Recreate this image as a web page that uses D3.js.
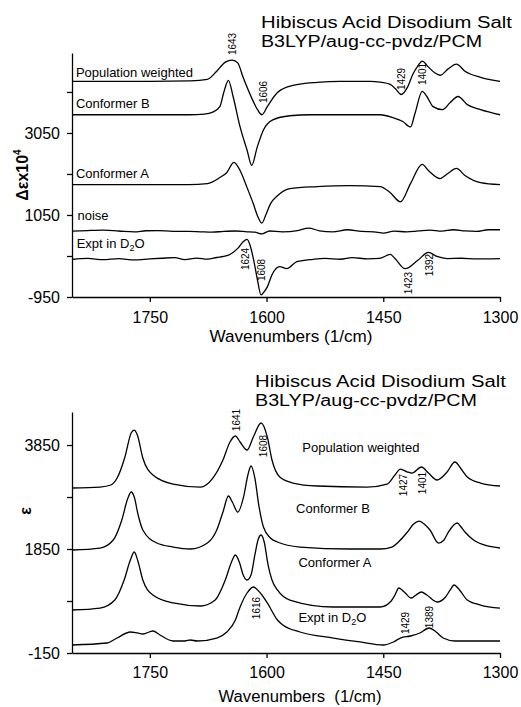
<!DOCTYPE html>
<html>
<head>
<meta charset="utf-8">
<script src="https://cdn.jsdelivr.net/npm/d3@7"></script>
<style>
  html, body { margin: 0; padding: 0; background: #fff; }
  svg { display: block; }
  text { font-family: "Liberation Sans", Arial, sans-serif; fill: #000; }
</style>
</head>
<body>
<svg id="chart" width="521" height="707"></svg>
<script>
// ---------------- DATA ----------------
const wavenumberTicks = [1750, 1600, 1450, 1300];
const topYTicks = [3050, 1050, -950];
const topYMinor = [4050, 2050, 50];
const botYTicks = [3850, 1850, -150];
const botYMinor = [2850, 850];

const titleLines = ["Hibiscus Acid Disodium Salt", "B3LYP/aug-cc-pvdz/PCM"];

// VCD (top panel): [wavenumber, Δε×10^4 incl. offset]
const vcdPopulation = [[1850,4309],[1750,4309],[1698,4320],[1676,4359],[1664,4556],[1653,4778],[1644,4828],[1637,4760],[1630,4400],[1619,3900],[1611,3600],[1606,3494],[1599,3692],[1586,4037],[1566,4210],[1535,4284],[1505,4309],[1467,4309],[1454,4290],[1441,4235],[1434,4120],[1427,3988],[1419,4161],[1412,4482],[1405,4700],[1400,4803],[1392,4655],[1384,4520],[1377,4457],[1367,4606],[1356,4729],[1345,4556],[1325,4408],[1313,4350],[1300,4309]];
const vcdConfB = [[1850,3494],[1700,3494],[1680,3510],[1669,3560],[1660,3692],[1655,4037],[1649,4334],[1643,3939],[1634,3198],[1625,2630],[1619,2260],[1612,2704],[1604,3124],[1592,3371],[1570,3470],[1544,3494],[1454,3494],[1437,3420],[1425,3330],[1415,3198],[1409,3544],[1400,4062],[1394,3939],[1386,3692],[1374,3618],[1364,3791],[1354,3939],[1342,3741],[1325,3618],[1300,3494]];
const vcdConfA = [[1850,1791],[1700,1791],[1676,1815],[1660,1963],[1651,2087],[1642,2334],[1634,2136],[1625,1717],[1617,1322],[1611,1001],[1606,852],[1601,1050],[1595,1322],[1586,1519],[1570,1692],[1535,1741],[1493,1766],[1454,1741],[1441,1593],[1428,1371],[1415,1815],[1400,2285],[1392,2136],[1377,1939],[1367,2062],[1356,2186],[1345,2013],[1325,1840],[1300,1791]];
const vcdNoise = [[1850,655],[1830,670],[1810,680],[1790,660],[1770,640],[1755,665],[1740,670],[1720,650],[1700,650],[1685,640],[1670,630],[1655,650],[1640,660],[1625,640],[1615,630],[1606,590],[1596,660],[1580,640],[1560,670],[1546,730],[1532,665],[1515,640],[1496,690],[1478,650],[1462,640],[1450,610],[1436,655],[1420,640],[1405,660],[1390,680],[1375,655],[1360,690],[1345,660],[1330,650],[1315,690],[1300,690]];
const vcdExpt = [[1850,-36],[1830,-10],[1810,-40],[1790,-15],[1770,-45],[1750,-20],[1735,-5],[1718,10],[1705,-40],[1690,0],[1676,-25],[1664,13],[1655,40],[1647,87],[1637,235],[1630,400],[1625,457],[1621,300],[1616,-100],[1612,-500],[1607,-900],[1603,-820],[1599,-703],[1593,-407],[1583,-209],[1574,-259],[1561,-86],[1540,-30],[1525,-10],[1505,-30],[1490,10],[1470,-20],[1455,-10],[1441,87],[1435,-12],[1422,-259],[1406,-61],[1392,136],[1381,38],[1368,-12],[1350,-5],[1330,-20],[1300,-12]];

// IR (bottom panel): [wavenumber, ε incl. offset]
const irPopulation = [[1850,3023],[1814,3042],[1800,3081],[1792,3215],[1782,3619],[1774,4081],[1770,4138],[1766,4042],[1759,3600],[1746,3273],[1720,3100],[1685,3042],[1669,3215],[1656,3562],[1647,3908],[1640,4023],[1634,3908],[1625,3754],[1617,4004],[1607,4273],[1599,4004],[1593,3562],[1583,3235],[1566,3119],[1535,3062],[1471,3042],[1445,3100],[1435,3273],[1428,3388],[1419,3331],[1413,3311],[1401,3427],[1392,3311],[1381,3177],[1368,3331],[1358,3523],[1349,3369],[1342,3235],[1325,3119],[1300,3062]];
const irConfB = [[1850,1831],[1814,1869],[1797,2023],[1786,2408],[1779,2792],[1774,2946],[1770,2850],[1765,2504],[1759,2215],[1741,1965],[1720,1888],[1698,1850],[1676,1965],[1664,2215],[1656,2561],[1649,2869],[1644,2754],[1637,2561],[1629,2888],[1624,3273],[1620,3446],[1615,3215],[1610,2696],[1604,2273],[1595,2062],[1586,1985],[1557,1888],[1493,1850],[1454,1850],[1439,1888],[1428,2023],[1419,2177],[1411,2331],[1404,2388],[1396,2311],[1390,2215],[1379,1965],[1372,2023],[1367,2158],[1355,2350],[1350,2273],[1345,2177],[1334,2023],[1316,1908],[1300,1869]];
const irConfA = [[1850,677],[1814,715],[1795,869],[1783,1254],[1775,1638],[1770,1792],[1765,1600],[1759,1254],[1746,965],[1720,812],[1685,754],[1666,869],[1653,1254],[1645,1600],[1640,1735],[1635,1600],[1630,1350],[1625,1254],[1620,1350],[1615,1735],[1611,2023],[1607,2119],[1603,1985],[1598,1542],[1593,1254],[1586,1062],[1570,869],[1514,735],[1454,735],[1441,831],[1435,965],[1430,1100],[1423,1023],[1414,908],[1408,965],[1401,1023],[1394,965],[1381,831],[1370,927],[1364,1062],[1359,1158],[1352,1062],[1342,869],[1325,773],[1300,715]];
const irExpt = [[1850,4],[1805,42],[1792,138],[1775,254],[1766,235],[1759,215],[1746,273],[1737,196],[1720,81],[1705,81],[1698,100],[1689,81],[1664,138],[1651,254],[1640,485],[1634,735],[1625,1004],[1617,1119],[1608,1004],[1599,812],[1586,485],[1579,388],[1557,254],[1514,138],[1480,62],[1450,4],[1437,62],[1428,138],[1415,177],[1403,235],[1391,331],[1382,254],[1373,138],[1358,81],[1300,81]];

// annotations: [text, wavenumber, value]
const topPeakLabels = [["1643",1644,5221],["1606",1604,4050],["1429",1427,4367],["1401",1399,4489],["1624",1627,-23],["1608",1606,-291],["1423",1418,-609],["1392",1391,-170]];
const botPeakLabels = [["1641",1639,4331],["1608",1604,3831],["1427",1424,3081],["1401",1400,3119],["1616",1613,715],["1429",1421,427],["1389",1390,542]];
// series labels: [text, wavenumber, value]
const topSeriesLabels = [["Population weighted",1845,4416],["Conformer B",1845,3660],["Conformer A",1845,1952],["noise",1843,928],["Expt in D|2|O",1844,245]];
const botSeriesLabels = [["Population weighted",1554,3715],["Conformer B",1562,2542],["Conformer A",1559,1504],["Expt in D|2|O",1559,446]];

// ---------------- DRAW ----------------
const svg = d3.select("#chart");
svg.append("rect").attr("width",521).attr("height",707).attr("fill","#fff");

const x = d3.scaleLinear().domain([1850, 1300]).range([72, 500]);

function panel(opts) {
  const y = d3.scaleLinear().domain(opts.yDomain).range(opts.yRange);
  const g = svg.append("g");
  const line = d3.line().x(d => x(d[0])).y(d => y(d[1])).curve(d3.curveMonotoneX);

  opts.series.forEach(s => {
    g.append("path").attr("d", line(s)).attr("fill","none")
      .attr("stroke","#000").attr("stroke-width",1.3).attr("stroke-linejoin","round");
  });

  const xa = g.append("g").attr("transform",`translate(0,${opts.yRange[0]})`)
    .call(d3.axisBottom(x).tickValues(wavenumberTicks).tickSize(5).tickSizeOuter(0).tickPadding(opts.xPad).tickFormat(d => String(d)));
  const ya = g.append("g").attr("transform",`translate(72,0)`)
    .call(d3.axisLeft(y).tickValues(opts.yTicks.concat(opts.yMinor)).tickSize(5).tickSizeOuter(0).tickPadding(7)
      .tickFormat(d => opts.yTicks.includes(d) ? String(d) : ""));
  [xa, ya].forEach(a => {
    a.select(".domain").attr("stroke","#000").attr("stroke-width",1.3);
    a.selectAll(".tick line").attr("stroke","#000").attr("stroke-width",1.3);
    a.selectAll(".tick text").attr("font-size",16).attr("font-family","Liberation Sans, Arial, sans-serif").attr("fill","#000");
  });

  svg.append("text").attr("x", opts.xTitleX).attr("y", opts.xTitleY)
    .attr("text-anchor","middle").attr("font-size",16)
    .attr("textLength",163).attr("lengthAdjust","spacingAndGlyphs")
    .style("white-space","pre").text(opts.xTitle);

  const yt = svg.append("text").attr("transform",`translate(${opts.yTitlePos[0]},${opts.yTitlePos[1]}) rotate(-90)`)
    .attr("text-anchor","middle").attr("font-size",16).attr("font-weight","bold");
  opts.yTitle(yt);

  titleLines.forEach((t,i) => {
    svg.append("text").attr("x", opts.titleX).attr("y", opts.titleY[i])
      .attr("font-size",16).attr("textLength", opts.titleLen[i]).attr("lengthAdjust","spacingAndGlyphs").text(t);
  });

  opts.peaks.forEach(([t,w,v]) => {
    svg.append("text").attr("transform",`translate(${x(w)},${y(v)}) rotate(-90)`)
      .attr("text-anchor","middle").attr("dominant-baseline","central")
      .attr("font-size",10).text(t);
  });

  opts.labels.forEach(([t,w,v]) => {
    const tx = svg.append("text").attr("x", x(w)).attr("y", y(v)).attr("font-size",13);
    const parts = t.split("|");
    if (parts.length === 1) { tx.text(t); }
    else {
      tx.append("tspan").text(parts[0]);
      tx.append("tspan").attr("font-size",9).attr("dy",3).text(parts[1]);
      tx.append("tspan").attr("dy",-3).text(parts[2]);
    }
  });
}

panel({
  yDomain:[-950, 5000], yRange:[297, 53],
  yTicks: topYTicks, yMinor: topYMinor, xPad: 10,
  series:[vcdPopulation, vcdConfB, vcdConfA, vcdNoise, vcdExpt],
  xTitle:"Wavenumbers (1/cm)", xTitleX:291, xTitleY:342,
  yTitlePos:[28,175],
  yTitle: t => { t.append("tspan").text("Δεx10"); t.append("tspan").attr("font-size",10).attr("dy",-7).text("4"); },
  titleX:261, titleY:[27.5,46.5], titleLen:[251,221],
  peaks: topPeakLabels, labels: topSeriesLabels
});

panel({
  yDomain:[-150, 4485], yRange:[653, 412],
  yTicks: botYTicks, yMinor: botYMinor, xPad: 9,
  series:[irPopulation, irConfB, irConfA, irExpt],
  xTitle:"Wavenumbers  (1/cm)", xTitleX:300, xTitleY:702,
  yTitlePos:[31,511],
  yTitle: t => { t.text("ε"); },
  titleX:255, titleY:[386.5,405.5], titleLen:[251,222],
  peaks: botPeakLabels, labels: botSeriesLabels
});
</script>
</body>
</html>
